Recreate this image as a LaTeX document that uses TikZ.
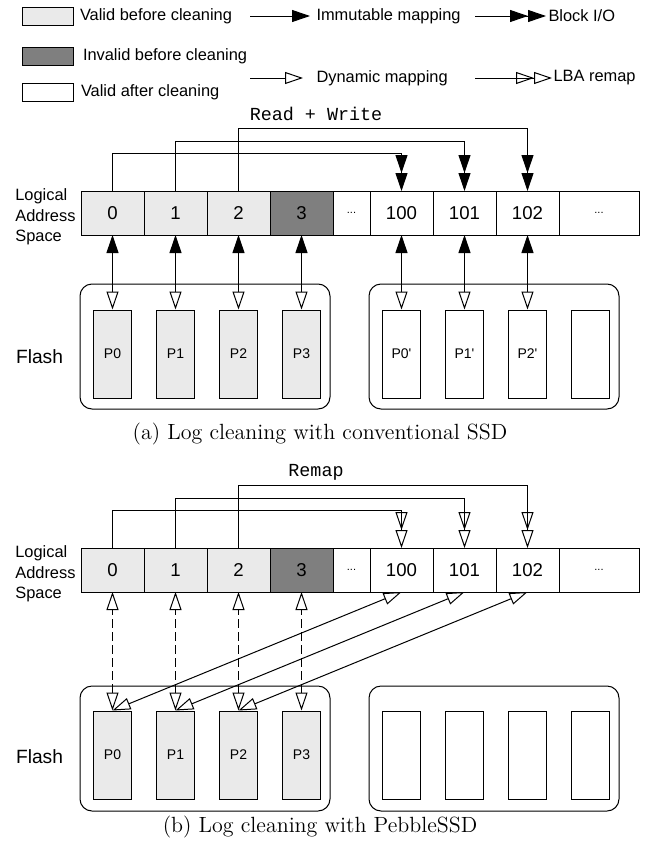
\documentclass[tikz,border=0pt]{standalone}
\usepackage{fontspec}
\setsansfont{Liberation Sans}
\setmonofont{Liberation Mono}
\usepackage{tikz}
\usetikzlibrary{arrows.meta,positioning}

\definecolor{validfill}{HTML}{EAEAEA}
\definecolor{invalidfill}{HTML}{7F7F7F}

\begin{document}
\begin{tikzpicture}[line width=0.5pt, node distance=0pt,
  legbox/.style={draw, minimum width=25.5pt, minimum height=9pt, inner sep=0pt},
  legtext/.style={font=\sffamily\fontsize{8.2}{10}\selectfont, inner sep=0pt},
  cell/.style={draw, minimum width=31.5pt, minimum height=22pt, inner sep=0pt, outer sep=0pt, font=\sffamily\fontsize{9.3}{11}\selectfont},
  dotcell/.style={cell, minimum width=18.5pt, font=\sffamily\fontsize{5.5}{6}\selectfont},
  pagebox/.style={draw, minimum width=19pt, minimum height=44pt, inner sep=0pt, font=\sffamily\fontsize{7}{8}\selectfont},
  flashbox/.style={draw, rounded corners=6pt, minimum width=125pt, minimum height=62.5pt},
  lasname/.style={font=\sffamily\fontsize{8.2}{10.25}\selectfont, align=left, inner sep=0pt},
  flashname/.style={font=\sffamily\fontsize{9.6}{11}\selectfont, inner sep=0pt},
  optext/.style={font=\ttfamily\fontsize{9.2}{11}\selectfont},
  subcap/.style={font=\rmfamily\fontsize{11}{13}\selectfont},
  immutmap/.style={-{Triangle[length=9pt,width=6pt]}},
  dynmap/.style={-{Triangle[open,length=9pt,width=6pt]}},
  blockio/.style={-{Triangle[length=9pt,width=6pt]Triangle[length=9pt,width=6pt]}},
  lbaremap/.style={-{Triangle[open,length=9pt,width=6pt]Triangle[open,length=9pt,width=6pt]}},
  bothmap/.style={{Triangle[open,length=9pt,width=6pt]}-{Triangle[length=9pt,width=6pt]}},
  dynboth/.style={{Triangle[open,length=9pt,width=6pt]}-{Triangle[open,length=9pt,width=6pt]}}]
  \useasboundingbox (0pt,0pt) rectangle (323pt,-425.5pt);

  % legend
  \node[legbox, fill=validfill] (lb1) at (23.75pt,-8pt) {};
  \node[legtext, right=3pt of lb1] (lt1) {Valid before cleaning};
  \node[legbox, fill=invalidfill] (lb2) at (23.75pt,-28pt) {};
  \node[legtext, right=4.5pt of lb2] (lt2) {Invalid before cleaning};
  \node[legbox] (lb3) at (23.75pt,-46pt) {};
  \node[legtext, right=3.5pt of lb3] (lt3) {Valid after cleaning};

  \coordinate (li) at (125pt,-8pt);
  \node[legtext, anchor=west] (lim) at (158pt,-8pt) {Immutable mapping};
  \draw[immutmap, shorten >=3pt] (li) -- (lim.west);
  \coordinate (lb) at (237.5pt,-8pt);
  \node[legtext, anchor=west] (lbio) at (274pt,-8pt) {Block I/O};
  \draw[blockio, shorten >=1pt] (lb) -- (lbio.west);
  \coordinate (ld) at (125pt,-39pt);
  \node[legtext, anchor=west] (ldyn) at (158pt,-39pt) {Dynamic mapping};
  \draw[dynmap, shorten >=6.5pt] (ld) -- (ldyn.west);
  \coordinate (lr) at (237.5pt,-39pt);
  \node[legtext, anchor=west] (llba) at (276.5pt,-39pt) {LBA remap};
  \draw[lbaremap, shorten >=0.5pt] (lr) -- (llba.west);

  % (a) conventional SSD
  \node[optext] (rw) at (158pt,-57pt) {Read + Write};
  \node[cell, fill=validfill] (a0) at (56.25pt,-106.5pt) {0};
  \node[cell, fill=validfill, right=of a0] (a1) {1};
  \node[cell, fill=validfill, right=of a1] (a2) {2};
  \node[cell, fill=invalidfill, right=of a2] (a3) {3};
  \node[dotcell, right=of a3] (ad) {...};
  \node[cell, right=of ad] (a100) {100};
  \node[cell, right=of a100] (a101) {101};
  \node[cell, right=of a101] (a102) {102};
  \node[dotcell, minimum width=40pt, right=of a102] (ae) {...};
  \node[lasname, left=2.5pt of a0, yshift=-2pt] (lasa) {Logical\\Address\\Space};

  \node[flashbox] (fa1) at (102.5pt,-173.25pt) {};
  \node[flashbox] (fa2) at (247pt,-173.25pt) {};
  \node[flashname] (flasha) at (19.75pt,-178.5pt) {Flash};
  \node[pagebox, fill=validfill, on grid, below=70.5pt of a0] (pa0) {P0};
  \node[pagebox, fill=validfill, on grid, below=70.5pt of a1] (pa1) {P1};
  \node[pagebox, fill=validfill, on grid, below=70.5pt of a2] (pa2) {P2};
  \node[pagebox, fill=validfill, on grid, below=70.5pt of a3] (pa3) {P3};
  \node[pagebox, on grid, below=70.5pt of a100] (pa4) {P0\textquotesingle};
  \node[pagebox, on grid, below=70.5pt of a101] (pa5) {P1\textquotesingle};
  \node[pagebox, on grid, below=70.5pt of a102] (pa6) {P2\textquotesingle};
  \node[pagebox, on grid, right=31.5pt of pa6] (pa7) {};

  \draw[blockio] (a0.north) -- ++(0,19pt) -| (a100.north);
  \draw[blockio] (a1.north) -- ++(0,25pt) -| (a101.north);
  \draw[blockio] (a2.north) -- ++(0,31.5pt) -| (a102.north);
  \draw[bothmap] (pa0.north) -- (a0.south);
  \draw[bothmap] (pa1.north) -- (a1.south);
  \draw[bothmap] (pa2.north) -- (a2.south);
  \draw[bothmap] (pa3.north) -- (a3.south);
  \draw[bothmap] (pa4.north) -- (a100.south);
  \draw[bothmap] (pa5.north) -- (a101.south);
  \draw[bothmap] (pa6.north) -- (a102.south);
  \node[subcap] (capa) at (160pt,-217pt) {(a) Log cleaning with conventional SSD};

  % (b) PebbleSSD
  \node[optext] (rm) at (158pt,-236pt) {Remap};
  \node[cell, fill=validfill] (b0) at (56.25pt,-285pt) {0};
  \node[cell, fill=validfill, right=of b0] (b1) {1};
  \node[cell, fill=validfill, right=of b1] (b2) {2};
  \node[cell, fill=invalidfill, right=of b2] (b3) {3};
  \node[dotcell, right=of b3] (bd) {...};
  \node[cell, right=of bd] (b100) {100};
  \node[cell, right=of b100] (b101) {101};
  \node[cell, right=of b101] (b102) {102};
  \node[dotcell, minimum width=40pt, right=of b102] (be) {...};
  \node[lasname, left=2.5pt of b0, yshift=-2pt] (lasb) {Logical\\Address\\Space};

  \node[flashbox] (fb1) at (102.5pt,-374.25pt) {};
  \node[flashbox] (fb2) at (247pt,-374.25pt) {};
  \node[flashname] (flashb) at (19.75pt,-378.5pt) {Flash};
  \node[pagebox, fill=validfill, on grid, below=92.5pt of b0] (pb0) {P0};
  \node[pagebox, fill=validfill, on grid, below=92.5pt of b1] (pb1) {P1};
  \node[pagebox, fill=validfill, on grid, below=92.5pt of b2] (pb2) {P2};
  \node[pagebox, fill=validfill, on grid, below=92.5pt of b3] (pb3) {P3};
  \node[pagebox, on grid, below=92.5pt of b100] (pb4) {};
  \node[pagebox, on grid, below=92.5pt of b101] (pb5) {};
  \node[pagebox, on grid, below=92.5pt of b102] (pb6) {};
  \node[pagebox, on grid, right=31.5pt of pb6] (pb7) {};

  \draw[lbaremap] (b0.north) -- ++(0,19pt) -| (b100.north);
  \draw[lbaremap] (b1.north) -- ++(0,25pt) -| (b101.north);
  \draw[lbaremap] (b2.north) -- ++(0,31.5pt) -| (b102.north);
  \draw[dynboth, dash pattern=on 4.5pt off 2pt] (pb0.north) -- (b0.south);
  \draw[dynboth, dash pattern=on 4.5pt off 2pt] (pb1.north) -- (b1.south);
  \draw[dynboth, dash pattern=on 4.5pt off 2pt] (pb2.north) -- (b2.south);
  \draw[dynboth, dash pattern=on 4.5pt off 2pt] (pb3.north) -- (b3.south);
  \draw[dynboth] (pb0.north) -- (b100.south);
  \draw[dynboth] (pb1.north) -- (b101.south);
  \draw[dynboth] (pb2.north) -- (b102.south);
  \node[subcap] (capb) at (160pt,-413.5pt) {(b) Log cleaning with PebbleSSD};
\end{tikzpicture}
\end{document}
